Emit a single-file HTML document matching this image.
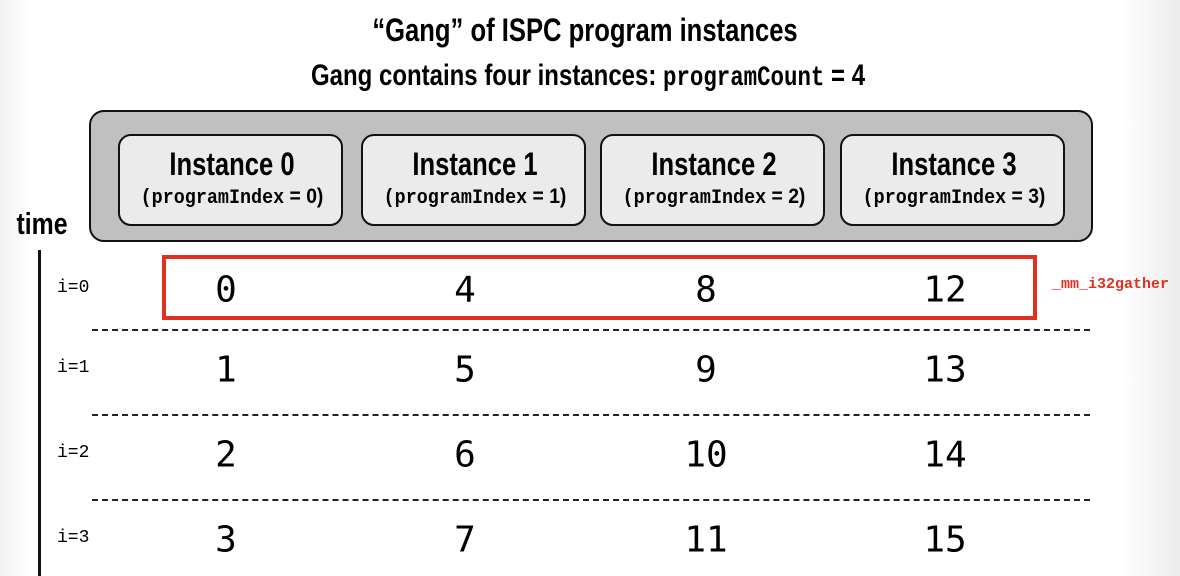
<!DOCTYPE html>
<html><head><meta charset="utf-8"><style>
body{margin:0;width:1180px;height:576px;overflow:hidden;background:linear-gradient(90deg,#f2f2f2 0,#fff 30px,#fff 1120px,#ececec 1180px);font-family:"Liberation Sans",sans-serif;position:relative}
.a{position:absolute}
.t{font-weight:bold;white-space:nowrap;transform:translateX(-50%) scaleX(0.8);transform-origin:center}
.box{position:absolute;background:#ebebeb;border:2px solid #111;border-radius:13px;box-sizing:border-box}
.mono{font-family:"Liberation Mono",monospace}
.num{position:absolute;font-family:"DejaVu Sans Mono","Liberation Mono",monospace;font-size:36px;transform:translate(-50%,-50%)}
.dash{position:absolute;left:92px;width:998px;border-top:2px dashed #222;height:0}
</style></head><body>
<div class="a t" style="left:585px;top:12px;font-size:32px">“Gang” of ISPC program instances</div>
<div class="a t" style="left:588px;top:59px;font-size:30px">Gang contains four instances: <span class="mono" style="font-size:28px">programCount</span> = 4</div>
<div class="a" style="left:89px;top:110px;width:1004px;height:132px;background:#c0c0c0;border:2px solid #111;border-radius:15px;box-sizing:border-box"></div>
<div id="inst"></div>
<div class="a t" style="left:42px;top:206px;font-size:31px">time</div>
<div class="a" style="left:38px;top:250px;width:3px;height:326px;background:#111"></div>
<div class="a" style="left:162px;top:255px;width:875px;height:65px;border:4px solid #e0301e;box-sizing:border-box"></div>
<div class="a mono" style="left:1052px;top:276px;font-size:15px;font-weight:bold;color:#e0301e">_mm_i32gather</div>
<div id="grid"></div>
<script>
const instances=["Instance 0","Instance 1","Instance 2","Instance 3"];
const values=[[0,4,8,12],[1,5,9,13],[2,6,10,14],[3,7,11,15]];
const rowLabels=["i=0","i=1","i=2","i=3"];
const bx=[118,361,600,840],colX=[226,465,706,945],rowY=[290,370,455,540],dashY=[329,414,499];
const inst=document.getElementById('inst');
instances.forEach((s,i)=>{
 const b=document.createElement('div');b.className='box';
 
 
 b.style.cssText=`left:${bx[i]}px;top:134px;width:225px;height:92px`;
 b.innerHTML=`<div class="a t" style="left:112px;top:10px;font-size:32px">${s}</div><div class="a" style="left:112px;top:49px;white-space:nowrap;transform:translateX(-50%) scaleX(0.92);font-size:21px;font-weight:bold"><span class="mono" style="font-size:20px">(programIndex</span> = ${i})</div>`;
 inst.appendChild(b);
});
const g=document.getElementById('grid');
values.forEach((r,ri)=>{
 const l=document.createElement('div');l.className='a mono';
 
 
 l.style.cssText=`left:57px;top:${rowY[ri]-12}px;font-size:18px`;l.textContent=rowLabels[ri];g.appendChild(l);
 r.forEach((v,ci)=>{const n=document.createElement('div');n.className='num';
 
 
 n.style.left=colX[ci]+'px';n.style.top=rowY[ri]+'px';n.textContent=v;g.appendChild(n);});
});
dashY.forEach(y=>{const d=document.createElement('div');d.className='dash';
 
 
 d.style.top=y+'px';g.appendChild(d);});
</script>
</body></html>
